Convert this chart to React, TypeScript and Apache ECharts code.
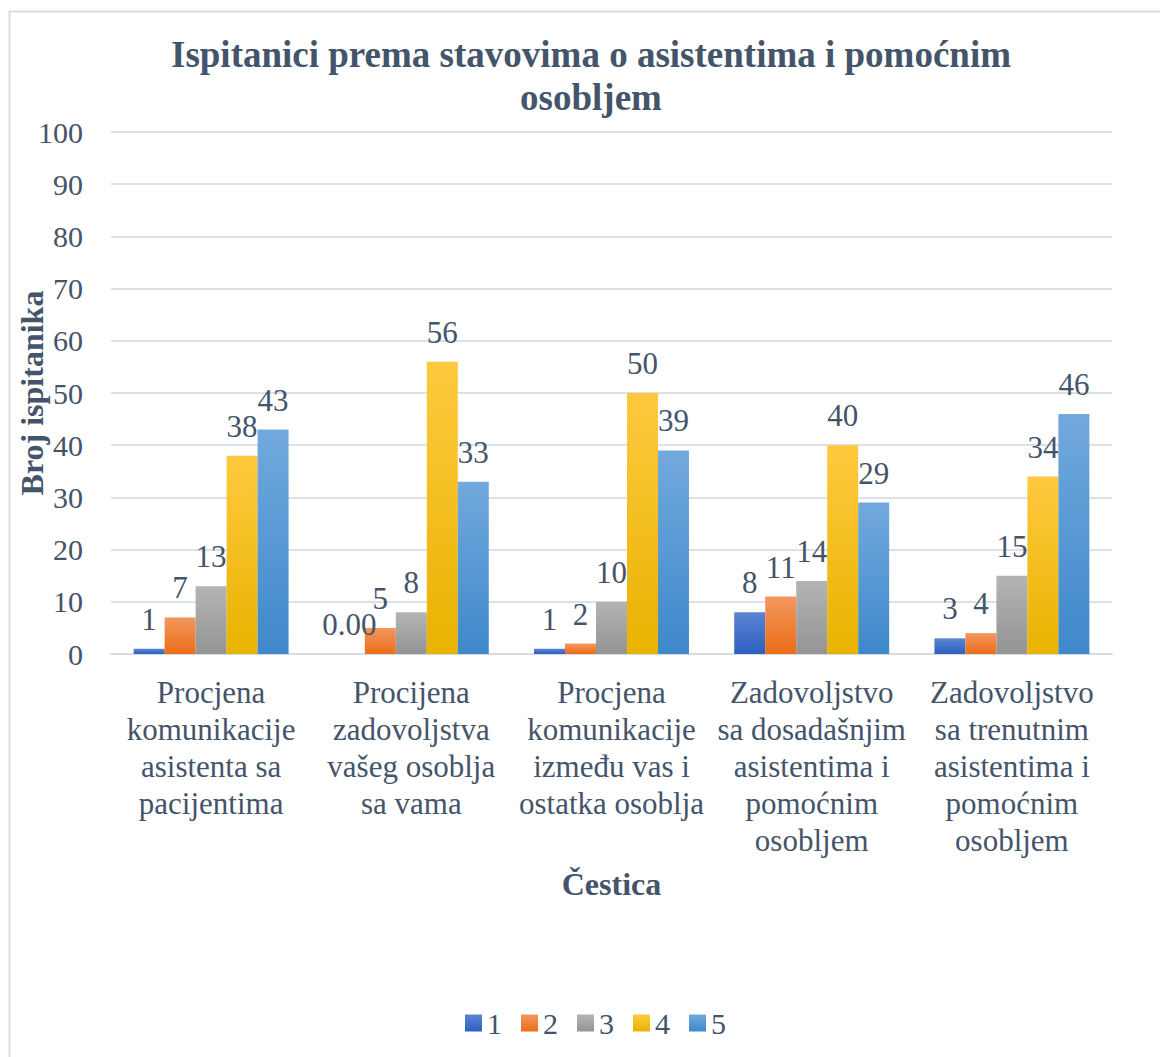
import React, { useEffect, useRef } from "react";
import * as echarts from "echarts";

const categories = [
  "Procjena\nkomunikacije\nasistenta sa\npacijentima",
  "Procijena\nzadovoljstva\nvašeg osoblja\nsa vama",
  "Procjena\nkomunikacije\nizmeđu vas i\nostatka osoblja",
  "Zadovoljstvo\nsa dosadašnjim\nasistentima i\npomoćnim\nosobljem",
  "Zadovoljstvo\nsa trenutnim\nasistentima i\npomoćnim\nosobljem",
];
const seriesNames = ["1", "2", "3", "4", "5"];
const s1 = [1, 0, 1, 8, 3];
const s2 = [7, 5, 2, 11, 4];
const s3 = [13, 8, 10, 14, 15];
const s4 = [38, 56, 50, 40, 34];
const s5 = [43, 33, 39, 29, 46];
const seriesValues = [s1, s2, s3, s4, s5];
const gradients: [string, string][] = [
  ["#5B84D1", "#2E60C1"],
  ["#F3975E", "#EB6D18"],
  ["#B4B4B4", "#949494"],
  ["#FFC93F", "#E8B300"],
  ["#72A9DE", "#3E88CA"],
];

const TXT = "#44546A";
const FONT = "'Liberation Serif', 'Times New Roman', serif";

export default function App() {
  const ref = useRef<HTMLDivElement>(null);
  useEffect(() => {
    if (!ref.current) return;
    const chart = echarts.init(ref.current, null, { renderer: "svg" });
    chart.setOption({
      animation: false,
      backgroundColor: "#ffffff",
      textStyle: { fontFamily: FONT },
      title: {
        text: "Ispitanici prema stavovima o asistentima i pomoćnim\nosobljem",
        left: 586,
        textAlign: "center",
        top: 28,
        textStyle: {
          fontFamily: FONT,
          fontSize: 37,
          fontWeight: "bold",
          color: TXT,
          lineHeight: 43,
        },
      },
      graphic: [
        {
          type: "rect",
          shape: { x: 9.5, y: 11.5, width: 1170, height: 1070 },
          style: { fill: "none", stroke: "#D9DDE3", lineWidth: 2 },
          silent: true,
          z: -1,
        },
      ],
      legend: {
        top: 1003,
        left: 460,
        itemWidth: 17,
        itemHeight: 17,
        itemGap: 19,
        icon: "rect",
        textStyle: { fontFamily: FONT, fontSize: 30, color: TXT },
        data: seriesNames,
      },
      grid: {
        left: 111,
        right: 48,
        top: 132,
        bottom: 403,
        containLabel: false,
        outerBoundsMode: "none",
      },
      xAxis: {
        type: "category",
        data: categories,
        name: "Čestica",
        nameLocation: "middle",
        nameGap: 214,
        nameMoveOverlap: false,
        nameTextStyle: { fontFamily: FONT, fontSize: 32, fontWeight: "bold", color: TXT },
        axisTick: { show: false },
        axisLine: { show: true, lineStyle: { color: "#D9DDE3", width: 2 } },
        axisLabel: {
          interval: 0,
          margin: 20,
          fontFamily: FONT,
          fontSize: 31,
          lineHeight: 37,
          color: TXT,
          align: "center",
        },
      },
      yAxis: {
        type: "value",
        min: 0,
        max: 100,
        interval: 10,
        name: "Broj ispitanika",
        nameLocation: "middle",
        nameGap: 63,
        nameMoveOverlap: false,
        nameTextStyle: { fontFamily: FONT, fontSize: 32, fontWeight: "bold", color: TXT },
        axisLine: { show: false },
        axisTick: { show: false },
        axisLabel: { margin: 28, fontFamily: FONT, fontSize: 30, color: TXT },
        splitLine: { lineStyle: { color: "#DDE1E6", width: 2 } },
      },
      series: seriesNames.map((name, i) => ({
        name,
        type: "bar",
        data: seriesValues[i],
        barGap: "0%",
        barCategoryGap: "22.6%",
        itemStyle: {
          color: new echarts.graphic.LinearGradient(0, 0, 0, 1, [
            { offset: 0, color: gradients[i][0] },
            { offset: 1, color: gradients[i][1] },
          ]),
        },
        label: {
          show: true,
          position: "top",
          distance: 14,
          fontFamily: FONT,
          fontSize: 31,
          color: TXT,
          formatter: (p: any) => (p.value === 0 ? "0.00" : String(p.value)),
        },
      })),
    });
    return () => chart.dispose();
  }, []);
  return (
    <div
      ref={ref}
      style={{ position: "absolute", left: 0, top: 0, width: 1160, height: 1057 }}
    />
  );
}
